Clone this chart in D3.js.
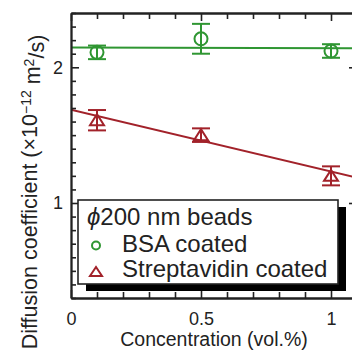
<!DOCTYPE html>
<html>
<head>
<meta charset="utf-8">
<script src="https://cdn.jsdelivr.net/npm/d3@7"></script>
<style>
  body { margin: 0; background: #fff; }
  svg { display: block; font-family: "Liberation Sans", Arial, sans-serif; }
</style>
</head>
<body>
<div id="chart"></div>
<script>
// data
const concentrations = [0.1, 0.5, 1.0]
const bsaValues = [2.11, 2.21, 2.12]
const bsaErrors = [0.05, 0.11, 0.05]
const strepValues = [1.61, 1.50, 1.20]
const strepErrors = [0.075, 0.05, 0.07]
const fitX = [0, 1.1]
const bsaFit = [2.145, 2.14]
const strepFit = [1.687, 1.186]
const xTicks = [0, 0.5, 1]
const yTicks = [1, 2]
const legendTitle = 'ϕ200 nm beads'
const seriesNames = ['BSA coated', 'Streptavidin coated']

const GREEN = '#2f9632'
const RED = '#a2222a'
const INK = '#222'

const width = 352, height = 358
const svg = d3.select('#chart').append('svg').attr('width', width).attr('height', height)

const x = d3.scaleLinear().domain([0, 1.1]).range([71, 357])
const y = d3.scaleLinear().domain([0.3, 2.4]).range([298, 13])

const minorX = d3.range(0, 1.1001, 0.1).map(v => +v.toFixed(2))
const minorY = d3.range(0.3, 2.4001, 0.1).map(v => +v.toFixed(2))

svg.append('clipPath').attr('id', 'plot').append('rect')
  .attr('x', x(0)).attr('y', y(2.4)).attr('width', x(1.1) - x(0)).attr('height', y(0.3) - y(2.4))

// fit lines
const line = d3.line().x(d => x(d[0])).y(d => y(d[1]))
const plot = svg.append('g').attr('clip-path', 'url(#plot)')
plot.append('path').datum(fitX.map((v, i) => [v, bsaFit[i]]))
  .attr('d', line).attr('fill', 'none').attr('stroke', GREEN).attr('stroke-width', 2)
plot.append('path').datum(fitX.map((v, i) => [v, strepFit[i]]))
  .attr('d', line).attr('fill', 'none').attr('stroke', RED).attr('stroke-width', 2)

// error bars + markers
function drawSeries(vals, errs, color, shape) {
  concentrations.forEach((c, i) => {
    const cx = x(c), cy = y(vals[i])
    const top = y(vals[i] + errs[i]), bot = y(vals[i] - errs[i])
    const g = plot.append('g').attr('stroke', color).attr('stroke-width', 2).attr('fill', 'none')
    g.append('line').attr('x1', cx).attr('x2', cx).attr('y1', top).attr('y2', bot)
    g.append('line').attr('x1', cx - 9).attr('x2', cx + 9).attr('y1', top).attr('y2', top)
    g.append('line').attr('x1', cx - 9).attr('x2', cx + 9).attr('y1', bot).attr('y2', bot)
    if (shape === 'circle') {
      g.append('circle').attr('cx', cx).attr('cy', cy).attr('r', 6.5)
    } else {
      g.append('path').attr('d', `M${cx - 7},${cy + 5}L${cx + 7},${cy + 5}L${cx},${cy - 6}Z`)
    }
  })
}
drawSeries(bsaValues, bsaErrors, GREEN, 'circle')
drawSeries(strepValues, strepErrors, RED, 'triangle')

// frame with inward ticks
function styleAxis(g) {
  g.select('.domain').attr('stroke', INK).attr('stroke-width', 1.8)
  g.selectAll('.tick line').attr('stroke', INK).attr('stroke-width', 1.6)
  g.selectAll('text').attr('fill', INK).style('font-size', '18px').attr('font-family', null)
}
const minorOnly = (all, major) => all.filter(v => !major.some(m => Math.abs(m - v) < 1e-6))

svg.append('g').attr('transform', `translate(0,${y(0.3)})`)
  .call(d3.axisBottom(x).tickValues(minorOnly(minorX, xTicks)).tickSize(-6).tickSizeOuter(0).tickFormat(''))
  .call(styleAxis)
svg.append('g').attr('transform', `translate(0,${y(0.3)})`)
  .call(d3.axisBottom(x).tickValues(xTicks).tickSize(-8).tickSizeOuter(0).tickPadding(14).tickFormat(d3.format('')))
  .call(styleAxis)
svg.append('g').attr('transform', `translate(0,${y(2.4)})`)
  .call(d3.axisTop(x).tickValues(minorOnly(minorX, xTicks)).tickSize(-6).tickSizeOuter(0).tickFormat(''))
  .call(styleAxis)
svg.append('g').attr('transform', `translate(0,${y(2.4)})`)
  .call(d3.axisTop(x).tickValues(xTicks).tickSize(-8).tickSizeOuter(0).tickFormat(''))
  .call(styleAxis)
svg.append('g').attr('transform', `translate(${x(0)},0)`)
  .call(d3.axisLeft(y).tickValues(minorOnly(minorY, yTicks)).tickSize(-5).tickSizeOuter(0).tickFormat(''))
  .call(styleAxis)
svg.append('g').attr('transform', `translate(${x(0)},0)`)
  .call(d3.axisLeft(y).tickValues(yTicks).tickSize(-8).tickSizeOuter(0).tickPadding(8).tickFormat(d3.format('')))
  .call(styleAxis)
svg.append('g').attr('transform', `translate(${x(1.1)},0)`)
  .call(d3.axisRight(y).tickValues(minorOnly(minorY, yTicks)).tickSize(-5).tickSizeOuter(0).tickFormat(''))
  .call(styleAxis)
svg.append('g').attr('transform', `translate(${x(1.1)},0)`)
  .call(d3.axisRight(y).tickValues(yTicks).tickSize(-8).tickSizeOuter(0).tickFormat(''))
  .call(styleAxis)

// axis titles
svg.append('text').attr('x', 214).attr('y', 346).attr('text-anchor', 'middle')
  .attr('fill', INK).style('font-size', '19.5px').text('Concentration (vol.%)')

const yl = svg.append('text').attr('transform', 'translate(37,192) rotate(-90)')
  .attr('text-anchor', 'middle').attr('fill', INK).style('font-size', '21.5px')
yl.append('tspan').text('Diffusion coefficient (×10')
yl.append('tspan').attr('dy', '-0.45em').style('font-size', '14px').text('−12')
yl.append('tspan').attr('dy', '0.45em').text(' m')
yl.append('tspan').attr('dy', '-0.45em').style('font-size', '14px').text('2')
yl.append('tspan').attr('dy', '0.45em').text('/s)')

// legend with drop shadow
const lx = 78, ly = 200, lw = 260, lh = 84
svg.append('rect').attr('x', lx + 8).attr('y', ly + 7).attr('width', lw).attr('height', lh).attr('fill', '#000')
svg.append('rect').attr('x', lx).attr('y', ly).attr('width', lw).attr('height', lh)
  .attr('fill', '#fff').attr('stroke', INK).attr('stroke-width', 1.6)

const lt = svg.append('text').attr('x', 87).attr('y', 224.5).attr('fill', INK).style('font-size', '24px')
lt.append('tspan').style('font-style', 'italic').text(legendTitle.slice(0, 1))
lt.append('tspan').text(legendTitle.slice(1))

svg.append('circle').attr('cx', 96).attr('cy', 245.5).attr('r', 4)
  .attr('fill', 'none').attr('stroke', GREEN).attr('stroke-width', 2)
svg.append('path').attr('d', 'M90,276L102,276L96,267Z')
  .attr('fill', 'none').attr('stroke', RED).attr('stroke-width', 2)

seriesNames.forEach((s, i) => {
  svg.append('text').attr('x', 122).attr('y', 252 + i * 25).attr('fill', INK)
    .style('font-size', '24px').text(s)
})
</script>
</body>
</html>
